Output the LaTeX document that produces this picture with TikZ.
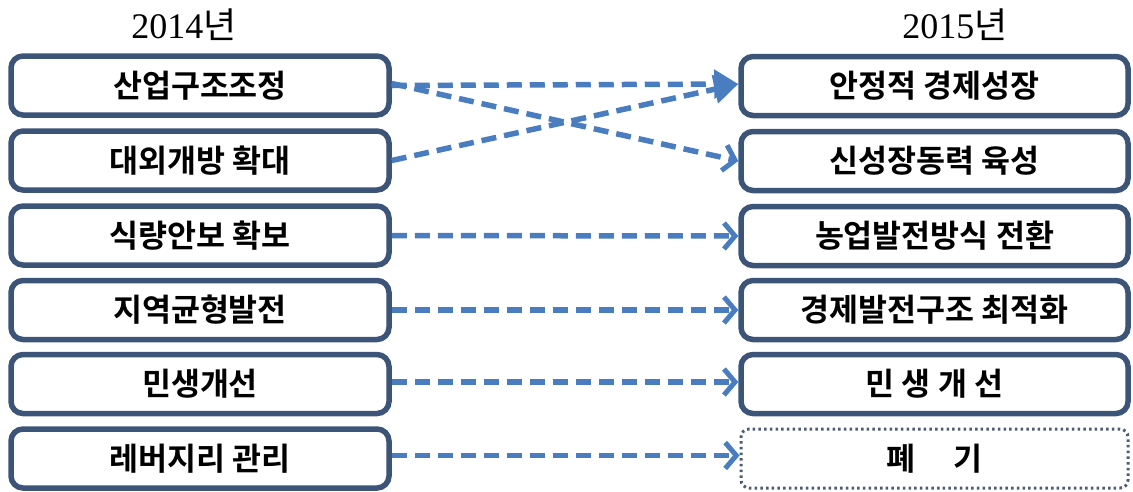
\documentclass[tikz,border=0pt]{standalone}
\usepackage{fontspec}
\setmainfont{Liberation Serif}
\newfontfamily\kr{Noto Sans CJK KR}[BoldFont={Noto Sans CJK KR Bold}]
\usetikzlibrary{arrows.meta}
\definecolor{boxline}{HTML}{3C5478}
\definecolor{arrowblue}{HTML}{4A7DC0}
\definecolor{dotline}{HTML}{4E5C72}
\tikzset{
  item/.style={draw=boxline, line width=5.5pt, rounded corners=12pt, fill=white,
    minimum height=59pt, font=\kr\bfseries\fontsize{31.5}{33}\selectfont, inner sep=0pt},
  leftitem/.style={item, minimum width=378pt},
  rightitem/.style={item, minimum width=387pt},
  dropped/.style={rightitem, draw=dotline, line width=3pt, dash pattern=on 2.5pt off 3.2pt, rounded corners=8pt},
  year/.style={font=\fontsize{36}{38}\selectfont},
  flow/.style={draw=arrowblue, line width=5.5pt, dash pattern=on 15pt off 8pt},
  flowopen/.style={flow, -{Straight Barb[length=11pt,width=26pt,line width=5pt]}},
  flowfill/.style={flow, -{Triangle[length=24pt,width=28pt]}}
}
\begin{document}
\begin{tikzpicture}[x=1pt,y=-1pt]
\useasboundingbox (0,0) rectangle (1133,491);
% column headings
\node[year] (y14) at (184,25) {2014{\kr 년}};
\node[year] (y15) at (955,25) {2015{\kr 년}};
% 2014 tasks
\node[leftitem] (a1) at (200,85.5) {산업구조조정};
\node[leftitem] (a2) at (200,160.5) {대외개방 확대};
\node[leftitem] (a3) at (200,235.5) {식량안보 확보};
\node[leftitem] (a4) at (200,310) {지역균형발전};
\node[leftitem] (a5) at (200,384) {민생개선};
\node[leftitem] (a6) at (200,458.5) {레버지리 관리};
% 2015 tasks
\node[rightitem] (b1) at (934.5,86) {안정적 경제성장};
\node[rightitem] (b2) at (934.5,161) {신성장동력 육성};
\node[rightitem] (b3) at (934.5,236) {농업발전방식 전환};
\node[rightitem] (b4) at (934.5,310) {경제발전구조 최적화};
\node[rightitem] (b5) at (934.5,384) {민 생 개 선};
\node[dropped] (b6) at (934.5,458.5) {폐\hspace{1.2em}기};
% links between the two years
\draw[flowfill] (a1.east) -- ([yshift=2pt]b1.west);
\draw[flowfill] (a2.east) -- ([yshift=2pt]b1.west);
\draw[flowopen] ([yshift=2pt]a1.east) -- (b2.west);
\draw[flowopen] (a3.east) -- (b3.west);
\draw[flowopen] (a4.east) -- (b4.west);
\draw[flowopen] ([yshift=2pt]a5.east) -- ([yshift=2pt]b5.west);
\draw[flowopen] ([yshift=3pt]a6.east) -- ([yshift=3pt]b6.west);
\end{tikzpicture}
\end{document}
